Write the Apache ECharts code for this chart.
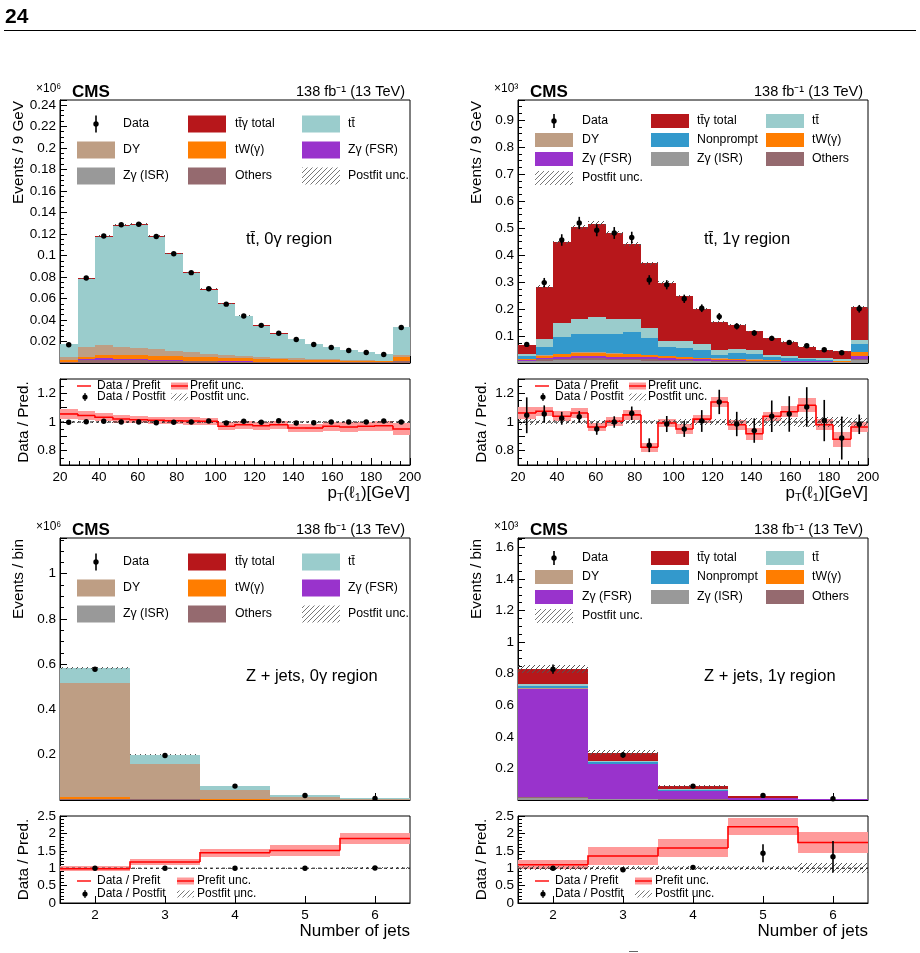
<!DOCTYPE html>
<html>
<head>
<meta charset="utf-8">
<script src="https://cdn.jsdelivr.net/npm/echarts@6/dist/echarts.min.js"></script>
<style>
html, body { margin: 0; padding: 0; background: #fff; }
#main { width: 920px; height: 953px; }
</style>
</head>
<body>
<div id="main"></div>
<script>
// bin edges of pT(l1) histograms, and jet-multiplicity categories
const ptEdges = [20, 29, 38, 47, 56, 65, 74, 83, 92, 101, 110, 119, 128, 137, 146, 155, 164, 173, 182, 191, 200];
const nJets = ['2', '3', '4', '5', '6'];

// ttbar, 0 photon region  (x10^6 events / 9 GeV)
const tt0Data = [0.017, 0.079, 0.118, 0.1285, 0.129, 0.1176, 0.1015, 0.084, 0.069, 0.0547, 0.0437, 0.035, 0.0277, 0.0218, 0.0172, 0.0144, 0.0116, 0.0098, 0.0079, 0.033];
const tt0Ttg = [0.0002, 0.0008, 0.0012, 0.0013, 0.0013, 0.0012, 0.001, 0.0009, 0.0007, 0.0006, 0.0005, 0.0004, 0.0003, 0.0003, 0.0002, 0.0002, 0.0002, 0.0001, 0.0001, 0.0004];
const tt0Tt = [0.0122, 0.0628, 0.0999, 0.1119, 0.1137, 0.1039, 0.0894, 0.0735, 0.0598, 0.0477, 0.0371, 0.0294, 0.0229, 0.018, 0.014, 0.0112, 0.009, 0.0073, 0.0058, 0.0256];
const tt0Dy = [0.0024, 0.0093, 0.0093, 0.0078, 0.0072, 0.006, 0.0053, 0.0043, 0.0033, 0.0026, 0.0021, 0.0016, 0.0011, 0.0012, 0.0009, 0.0009, 0.0008, 0.0007, 0.0005, 0.0022];
const tt0Tw = [0.0017, 0.0021, 0.0032, 0.0034, 0.0035, 0.0038, 0.0035, 0.0035, 0.0032, 0.003, 0.0027, 0.0025, 0.0023, 0.002, 0.0018, 0.0016, 0.0015, 0.0014, 0.0012, 0.0037];
const tt0Fsr = [0.0003, 0.001, 0.0012, 0.0011, 0.001, 0.0008, 0.0007, 0.0006, 0.0005, 0.0004, 0.0003, 0.0003, 0.0002, 0.0002, 0.0002, 0.0002, 0.0001, 0.0001, 0.0001, 0.0003];
const tt0Isr = [0.0002, 0.0004, 0.0004, 0.0004, 0.0003, 0.0003, 0.0003, 0.0002, 0.0002, 0.0002, 0.0002, 0.0001, 0.0001, 0.0001, 0.0001, 0.0001, 0.0001, 0.0001, 0.0001, 0.0002];
const tt0Oth = [0.0008, 0.0025, 0.0028, 0.0026, 0.0024, 0.002, 0.0018, 0.0015, 0.0013, 0.0011, 0.001, 0.0009, 0.0008, 0.0007, 0.0006, 0.0005, 0.0005, 0.0004, 0.0004, 0.0012];
const tt0Unc = [0.006, 0.006, 0.006, 0.006, 0.006, 0.006, 0.006, 0.006, 0.006, 0.006, 0.006, 0.006, 0.006, 0.006, 0.006, 0.006, 0.006, 0.006, 0.006, 0.006];
const tt0Pre = [1.056, 1.045, 1.033, 1.021, 1.016, 1.012, 1.009, 1.007, 1.005, 0.97, 0.981, 0.974, 0.981, 0.958, 0.958, 0.97, 0.965, 0.97, 0.974, 0.951];
const tt0PreUnc = [0.032, 0.03, 0.028, 0.027, 0.026, 0.025, 0.025, 0.025, 0.025, 0.028, 0.028, 0.028, 0.028, 0.03, 0.03, 0.03, 0.032, 0.032, 0.035, 0.04];
const tt0Post = [0.998, 1.002, 1.005, 1.0, 1.0, 0.995, 0.998, 1.0, 1.007, 0.993, 1.005, 0.998, 1.009, 0.993, 0.995, 1.0, 1.0, 1.0, 1.007, 1.0];
const tt0PostErr = [0.002, 0.002, 0.002, 0.002, 0.002, 0.002, 0.002, 0.002, 0.002, 0.002, 0.002, 0.002, 0.002, 0.002, 0.002, 0.002, 0.002, 0.002, 0.002, 0.002];
const tt0PostUnc = [0.004, 0.004, 0.004, 0.004, 0.004, 0.004, 0.004, 0.004, 0.004, 0.004, 0.004, 0.004, 0.004, 0.004, 0.004, 0.004, 0.004, 0.004, 0.004, 0.004];

// ttbar, 1 photon region  (x10^3 events / 9 GeV)
const tt1Data = [0.069, 0.298, 0.456, 0.519, 0.492, 0.482, 0.465, 0.308, 0.290, 0.238, 0.203, 0.172, 0.136, 0.111, 0.0913, 0.0764, 0.064, 0.049, 0.038, 0.201];
const tt1DataErr = [0.0083, 0.0173, 0.0214, 0.0228, 0.0222, 0.022, 0.0216, 0.0175, 0.017, 0.0154, 0.0142, 0.0131, 0.0117, 0.0105, 0.0096, 0.0087, 0.008, 0.007, 0.0062, 0.0142];
const tt1Ttg = [0.0345, 0.1948, 0.300, 0.342, 0.348, 0.319, 0.279, 0.242, 0.216, 0.167, 0.1325, 0.105, 0.088, 0.067, 0.0623, 0.0507, 0.0405, 0.031, 0.031, 0.1215];
const tt1Tt = [0.0065, 0.0288, 0.0495, 0.056, 0.062, 0.056, 0.049, 0.037, 0.022, 0.028, 0.021, 0.019, 0.014, 0.017, 0.008, 0.010, 0.0055, 0.006, 0.004, 0.016];
const tt1Np = [0.0105, 0.032, 0.0625, 0.068, 0.068, 0.071, 0.080, 0.061, 0.034, 0.031, 0.029, 0.012, 0.022, 0.020, 0.009, 0.008, 0.005, 0.003, 0.003, 0.027];
const tt1Dy = [0.001, 0.002, 0.002, 0.002, 0.002, 0.002, 0.002, 0.001, 0.001, 0.001, 0.001, 0.001, 0.001, 0.001, 0.001, 0, 0, 0, 0, 0.002];
const tt1Tw = [0.002, 0.006, 0.009, 0.011, 0.011, 0.010, 0.009, 0.008, 0.007, 0.006, 0.005, 0.004, 0.004, 0.003, 0.003, 0.002, 0.002, 0.002, 0.002, 0.014];
const tt1Fsr = [0.003, 0.007, 0.008, 0.009, 0.009, 0.008, 0.008, 0.007, 0.006, 0.005, 0.004, 0.004, 0.003, 0.003, 0.002, 0.002, 0.002, 0.002, 0.001, 0.010];
const tt1Isr = [0.006, 0.008, 0.010, 0.011, 0.011, 0.010, 0.010, 0.009, 0.008, 0.007, 0.006, 0.005, 0.005, 0.004, 0.004, 0.003, 0.003, 0.003, 0.002, 0.010];
const tt1Oth = [0.003, 0.005, 0.006, 0.006, 0.006, 0.006, 0.005, 0.005, 0.004, 0.004, 0.003, 0.003, 0.003, 0.002, 0.002, 0.002, 0.002, 0.001, 0.001, 0.006];
const tt1Unc = [0.02, 0.015, 0.015, 0.015, 0.015, 0.015, 0.015, 0.015, 0.017, 0.018, 0.02, 0.022, 0.023, 0.025, 0.027, 0.03, 0.032, 0.035, 0.038, 0.03];
const tt1Pre = [1.063, 1.075, 1.04, 1.063, 0.965, 1.005, 1.05, 0.824, 0.993, 0.951, 1.02, 1.14, 0.981, 0.918, 1.04, 1.072, 1.117, 0.981, 0.88, 0.965];
const tt1PreUnc = [0.04, 0.033, 0.035, 0.032, 0.03, 0.033, 0.035, 0.03, 0.026, 0.032, 0.03, 0.032, 0.035, 0.043, 0.032, 0.037, 0.047, 0.037, 0.053, 0.033];
const tt1Post = [1.047, 1.056, 1.026, 1.037, 0.951, 1.0, 1.061, 0.838, 0.986, 0.951, 1.007, 1.14, 0.986, 0.94, 1.04, 1.056, 1.105, 1.01, 0.888, 0.984];
const tt1PostErr = [0.125, 0.06, 0.045, 0.04, 0.04, 0.04, 0.047, 0.048, 0.056, 0.055, 0.076, 0.085, 0.085, 0.085, 0.11, 0.124, 0.138, 0.144, 0.15, 0.068];
const tt1PostUnc = [0.02, 0.015, 0.015, 0.015, 0.015, 0.015, 0.015, 0.015, 0.017, 0.018, 0.02, 0.022, 0.023, 0.025, 0.027, 0.03, 0.032, 0.035, 0.038, 0.03];

// Z+jets, 0 photon region  (x10^6 events / bin)
const zj0Data = [0.578, 0.197, 0.0615, 0.020, 0.007];
const zj0Ttg = [0.0005, 0.0003, 0.0002, 0.0001, 0.0001];
const zj0Tt = [0.0655, 0.0397, 0.0175, 0.0086, 0.0029];
const zj0Dy = [0.505, 0.1554, 0.043, 0.0121, 0.0037];
const zj0Tw = [0.006, 0.002, 0.0011, 0.0004, 0.0001];
const zj0Fsr = [0.001, 0.0003, 0.0001, 0, 0];
const zj0Isr = [0.001, 0.0003, 0.0001, 0, 0];
const zj0Oth = [0.004, 0.002, 0.001, 0.0005, 0.0002];
const zj0Unc = [0.008, 0.01, 0.015, 0.02, 0.03];
const zj0Pre = [0.985, 1.18, 1.445, 1.51, 1.855];
const zj0PreUnc = [0.075, 0.08, 0.11, 0.17, 0.16];
const zj0Post = [1.0, 1.0, 1.0, 1.0, 1.005];
const zj0PostErr = [0.003, 0.005, 0.01, 0.02, 0.03];
const zj0PostUnc = [0.01, 0.01, 0.015, 0.02, 0.03];

// Z+jets, 1 photon region  (x10^3 events / bin)
const zj1Data = [0.829, 0.285, 0.088, 0.029, 0.008];
const zj1DataErr = [0.029, 0.017, 0.0094, 0.0054, 0.0028];
const zj1Ttg = [0.091, 0.051, 0.019, 0.011, 0.0025];
const zj1Tt = [0.015, 0.010, 0.005, 0.002, 0.001];
const zj1Np = [0.016, 0.008, 0.006, 0.002, 0.001];
const zj1Dy = [0.003, 0.002, 0.001, 0, 0];
const zj1Tw = [0.002, 0.001, 0.001, 0, 0];
const zj1Fsr = [0.68, 0.218, 0.052, 0.008, 0.003];
const zj1Isr = [0.012, 0.005, 0.002, 0.001, 0];
const zj1Oth = [0.010, 0.004, 0.002, 0.001, 0.0005];
const zj1Unc = [0.03, 0.05, 0.06, 0.08, 0.1];
const zj1Pre = [1.10, 1.35, 1.58, 2.19, 1.74];
const zj1PreUnc = [0.13, 0.25, 0.26, 0.25, 0.3];
const zj1Post = [1.0, 0.957, 1.025, 1.43, 1.33];
const zj1PostErr = [0.035, 0.03, 0.045, 0.26, 0.45];
const zj1PostUnc = [0.05, 0.05, 0.05, 0.05, 0.15];

const FONT = '"Liberation Sans", Arial, Helvetica, sans-serif';
const COL = {
  ttg: '#b7171b', tt: '#9acccc', dy: '#be9e84', np: '#3399cc',
  tw: '#ff7d00', fsr: '#9933cc', isr: '#999999', oth: '#956a6f'
};
const ORDER = ['isr', 'oth', 'fsr', 'tw', 'dy', 'np', 'tt', 'ttg'];

// diagonal hatch pattern (ROOT style 3354-ish)
function makeHatch(color, step) {
  const c = document.createElement('canvas');
  c.width = step; c.height = step;
  const g = c.getContext('2d');
  g.strokeStyle = color; g.lineWidth = 1;
  g.beginPath();
  g.moveTo(0, step); g.lineTo(step, 0);
  g.moveTo(-1, 1); g.lineTo(1, -1);
  g.moveTo(step - 1, step + 1); g.lineTo(step + 1, step - 1);
  g.stroke();
  return { image: c, repeat: 'repeat' };
}
const hatchFill = makeHatch('#555', 5);
const hatchLegend = makeHatch('#777', 5);

const panels = [
  { left: 60, top: 100, height: 263, rTop: 379, rHeight: 86, cat: false,
    yMax: 0.2445, yInt: 0.02, rMin: 0.7, rMax: 1.3, rInt: 0.1,
    stack: { isr: tt0Isr, oth: tt0Oth, fsr: tt0Fsr, tw: tt0Tw, dy: tt0Dy, tt: tt0Tt, ttg: tt0Ttg },
    data: tt0Data, dataErr: null, unc: tt0Unc,
    pre: tt0Pre, preUnc: tt0PreUnc, post: tt0Post, postErr: tt0PostErr, postUnc: tt0PostUnc },
  { left: 518, top: 100, height: 263, rTop: 379, rHeight: 86, cat: false,
    yMax: 0.975, yInt: 0.1, rMin: 0.7, rMax: 1.3, rInt: 0.1,
    stack: { isr: tt1Isr, oth: tt1Oth, fsr: tt1Fsr, tw: tt1Tw, dy: tt1Dy, np: tt1Np, tt: tt1Tt, ttg: tt1Ttg },
    data: tt1Data, dataErr: tt1DataErr, unc: tt1Unc,
    pre: tt1Pre, preUnc: tt1PreUnc, post: tt1Post, postErr: tt1PostErr, postUnc: tt1PostUnc },
  { left: 60, top: 538, height: 262, rTop: 816, rHeight: 87, cat: true,
    yMax: 1.158, yInt: 0.2, rMin: 0, rMax: 2.5, rInt: 0.5,
    stack: { isr: zj0Isr, oth: zj0Oth, fsr: zj0Fsr, tw: zj0Tw, dy: zj0Dy, tt: zj0Tt, ttg: zj0Ttg },
    data: zj0Data, dataErr: null, unc: zj0Unc,
    pre: zj0Pre, preUnc: zj0PreUnc, post: zj0Post, postErr: zj0PostErr, postUnc: zj0PostUnc },
  { left: 518, top: 538, height: 262, rTop: 816, rHeight: 87, cat: true,
    yMax: 1.66, yInt: 0.2, rMin: 0, rMax: 2.5, rInt: 0.5,
    stack: { isr: zj1Isr, oth: zj1Oth, fsr: zj1Fsr, tw: zj1Tw, dy: zj1Dy, np: zj1Np, tt: zj1Tt, ttg: zj1Ttg },
    data: zj1Data, dataErr: zj1DataErr, unc: zj1Unc,
    pre: zj1Pre, preUnc: zj1PreUnc, post: zj1Post, postErr: zj1PostErr, postUnc: zj1PostUnc }
];

function xVal(p, i) { return p.cat ? i : (ptEdges[i] + ptEdges[i + 1]) / 2; }

function binX(p, api, i) {
  if (p.cat) {
    const c = api.coord([i, 0])[0];
    const w = api.size([1, 0])[0];
    return [Math.round(c - w / 2), Math.round(c + w / 2)];
  }
  return [Math.round(api.coord([ptEdges[i], 0])[0]), Math.round(api.coord([ptEdges[i + 1], 0])[0])];
}

// one filled box per bin, between lo and hi
function boxSeries(p, ax, rows, fill, z) {
  return {
    type: 'custom', xAxisIndex: ax, yAxisIndex: ax, silent: true, z: z,
    data: rows, encode: { x: 0, y: [1, 2] },
    renderItem: (params, api) => {
      const i = api.value(3), lo = api.value(1), hi = api.value(2);
      const [xl, xr] = binX(p, api, i);
      const y0 = Math.round(api.coord([api.value(0), lo])[1]);
      const y1 = Math.round(api.coord([api.value(0), hi])[1]);
      if (y0 - y1 <= 0) return { type: 'group', children: [] };
      return { type: 'rect', shape: { x: xl, y: y1, width: xr - xl, height: y0 - y1 }, style: { fill: fill } };
    }
  };
}

// markers with vertical error bars
function pointSeries(p, ax, vals, errs) {
  return {
    type: 'custom', xAxisIndex: ax, yAxisIndex: ax, silent: true, z: 10,
    data: vals.map((v, i) => [xVal(p, i), v, errs ? errs[i] : 0]),
    encode: { x: 0, y: 1 },
    renderItem: (params, api) => {
      const x = api.value(0), y = api.value(1), e = api.value(2);
      const c = api.coord([x, y]);
      const lo = api.coord([x, y - e]), hi = api.coord([x, y + e]);
      return { type: 'group', children: [
        { type: 'line', shape: { x1: c[0], y1: lo[1], x2: c[0], y2: hi[1] }, style: { stroke: '#000', lineWidth: 1.6 } },
        { type: 'circle', shape: { cx: c[0], cy: c[1], r: 2.7 }, style: { fill: '#000' } }
      ] };
    }
  };
}

function mainFmt(step) {
  return v => {
    const k = v / step;
    if (v < 1e-9 || Math.abs(k - Math.round(k)) > 1e-6) return '';
    return String(parseFloat(v.toFixed(4)));
  };
}
const ratioFmtTop = v => { const r = Math.round(v * 10); return r === 8 ? '0.8' : r === 10 ? '1' : r === 12 ? '1.2' : ''; };
const ratioFmtBot = v => String(parseFloat(v.toFixed(2)));

const tickStyle = { color: '#000', width: 1 };
function xAxisCfg(p, gi, showLabel) {
  const base = {
    gridIndex: gi,
    axisLine: { show: true, lineStyle: tickStyle },
    splitLine: { show: false },
    axisLabel: { show: showLabel, color: '#000', fontFamily: FONT, fontSize: 13.5, margin: 5 }
  };
  if (p.cat) {
    return Object.assign(base, {
      type: 'category', data: nJets, boundaryGap: true,
      axisTick: { show: true, inside: true, alignWithLabel: true, length: 7, lineStyle: tickStyle }
    });
  }
  return Object.assign(base, {
    type: 'value', min: 20, max: 200, interval: 20,
    axisTick: { show: true, inside: true, length: 7, lineStyle: tickStyle },
    minorTick: { show: true, splitNumber: 4, length: 4, lineStyle: tickStyle }
  });
}
function yAxisCfg(gi, min, max, interval, fmt, split) {
  return {
    type: 'value', gridIndex: gi, min: min, max: max, interval: interval,
    axisLine: { show: true, lineStyle: tickStyle },
    axisTick: { show: true, inside: true, length: 7, lineStyle: tickStyle },
    minorTick: { show: true, splitNumber: split, length: 4, lineStyle: tickStyle },
    splitLine: { show: false },
    axisLabel: { color: '#000', fontFamily: FONT, fontSize: 13.5, margin: 4, formatter: fmt }
  };
}

const grids = [], xAxes = [], yAxes = [], series = [];
panels.forEach((p, pi) => {
  const gm = 2 * pi, gr = 2 * pi + 1;
  const gridBase = { left: p.left, width: 350, show: true, borderColor: '#000', borderWidth: 1, backgroundColor: 'transparent', containLabel: false };
  grids.push(Object.assign({}, gridBase, { top: p.top, height: p.height }));
  grids.push(Object.assign({}, gridBase, { top: p.rTop, height: p.rHeight }));
  xAxes.push(xAxisCfg(p, gm, false));
  xAxes.push(xAxisCfg(p, gr, true));
  yAxes.push(yAxisCfg(gm, 0, p.yMax, p.yInt, mainFmt(p.yInt), 4));
  yAxes.push(yAxisCfg(gr, p.rMin, p.rMax, p.rInt, p.cat ? ratioFmtBot : ratioFmtTop, p.cat ? 5 : 2));

  // stacked backgrounds
  const n = p.data.length;
  const cum = new Array(n).fill(0);
  ORDER.forEach(key => {
    const vals = p.stack[key];
    if (!vals) return;
    const rows = vals.map((v, i) => [xVal(p, i), cum[i], cum[i] + v, i]);
    vals.forEach((v, i) => { cum[i] += v; });
    series.push(boxSeries(p, gm, rows, COL[key], 2));
  });
  // postfit uncertainty on the total
  series.push(boxSeries(p, gm, cum.map((t, i) => [xVal(p, i), t * (1 - p.unc[i]), t * (1 + p.unc[i]), i]), hatchFill, 4));
  series.push(pointSeries(p, gm, p.data, p.dataErr));

  // ratio panel
  series.push(boxSeries(p, gr, p.pre.map((r, i) => [xVal(p, i), r - p.preUnc[i], r + p.preUnc[i], i]), '#ff9a9a', 2));
  series.push(boxSeries(p, gr, p.postUnc.map((u, i) => [xVal(p, i), 1 - u, 1 + u, i]), hatchFill, 3));
  series.push({
    type: 'custom', xAxisIndex: gr, yAxisIndex: gr, silent: true, z: 4,
    data: [[xVal(p, 0), 1]], encode: { x: 0, y: 1 },
    renderItem: (params, api) => {
      const cs = params.coordSys;
      const y = api.coord([api.value(0), api.value(1)])[1];
      return { type: 'line', shape: { x1: cs.x, y1: y, x2: cs.x + cs.width, y2: y }, style: { stroke: '#000', lineWidth: 1, lineDash: [3, 3] } };
    }
  });
  series.push({
    type: 'custom', xAxisIndex: gr, yAxisIndex: gr, silent: true, z: 6,
    data: p.pre.map((r, i) => [xVal(p, i), r, i > 0 ? p.pre[i - 1] : r, i]),
    encode: { x: 0, y: 1 },
    renderItem: (params, api) => {
      const i = api.value(3);
      const [xl, xr] = binX(p, api, i);
      const y = api.coord([api.value(0), api.value(1)])[1];
      const yp = api.coord([api.value(0), api.value(2)])[1];
      const pts = i > 0 ? [[xl, yp], [xl, y], [xr, y]] : [[xl, y], [xr, y]];
      return { type: 'polyline', shape: { points: pts }, style: { stroke: '#ff0000', lineWidth: 1.6, fill: null } };
    }
  });
  series.push(pointSeries(p, gr, p.post, p.postErr));
});

// ---------- text and legends ----------
function txt(x, y, s, size, extra) {
  const st = Object.assign({ text: s, fontSize: size, fontFamily: FONT, fill: '#000',
    align: 'left', textAlign: 'left', verticalAlign: 'middle', textVerticalAlign: 'middle' }, extra || {});
  return { type: 'text', x: x, y: y, z: 100, silent: true, style: st };
}
function vtxt(x, y, s, size, align) {
  const el = txt(x, y, s, size, { align: align, textAlign: align });
  el.rotation = Math.PI / 2;
  return el;
}

const legA = [
  { k: 'data', t: 'Data', c: 0, r: 0 }, { k: 'ttg', t: 'tt\u0304\u03b3 total', c: 1, r: 0 }, { k: 'tt', t: 'tt\u0304', c: 2, r: 0 },
  { k: 'dy', t: 'DY', c: 0, r: 1 }, { k: 'tw', t: 'tW(\u03b3)', c: 1, r: 1 }, { k: 'fsr', t: 'Z\u03b3 (FSR)', c: 2, r: 1 },
  { k: 'isr', t: 'Z\u03b3 (ISR)', c: 0, r: 2 }, { k: 'oth', t: 'Others', c: 1, r: 2 }, { k: 'hatch', t: 'Postfit unc.', c: 2, r: 2 }
];
const legB = [
  { k: 'data', t: 'Data', c: 0, r: 0 }, { k: 'ttg', t: 'tt\u0304\u03b3 total', c: 1, r: 0 }, { k: 'tt', t: 'tt\u0304', c: 2, r: 0 },
  { k: 'dy', t: 'DY', c: 0, r: 1 }, { k: 'np', t: 'Nonprompt', c: 1, r: 1 }, { k: 'tw', t: 'tW(\u03b3)', c: 2, r: 1 },
  { k: 'fsr', t: 'Z\u03b3 (FSR)', c: 0, r: 2 }, { k: 'isr', t: 'Z\u03b3 (ISR)', c: 1, r: 2 }, { k: 'oth', t: 'Others', c: 2, r: 2 },
  { k: 'hatch', t: 'Postfit unc.', c: 0, r: 3 }
];

function mainLegend(ox, rows, iconX, textX, iconH, entries) {
  const out = [];
  entries.forEach(e => {
    const y = rows[e.r], ix = ox + iconX[e.c], tx = ox + textX[e.c];
    if (e.k === 'data') {
      out.push({ type: 'line', z: 100, silent: true, shape: { x1: ix + 19, y1: y - iconH / 2, x2: ix + 19, y2: y + iconH / 2 }, style: { stroke: '#000', lineWidth: 1.6 } });
      out.push({ type: 'circle', z: 100, silent: true, shape: { cx: ix + 19, cy: y, r: 2.7 }, style: { fill: '#000' } });
    } else {
      out.push({ type: 'rect', z: 100, silent: true, shape: { x: ix, y: y - iconH / 2, width: 38, height: iconH },
        style: { fill: e.k === 'hatch' ? hatchLegend : COL[e.k] } });
    }
    out.push(txt(tx, y, e.t, 12.3));
  });
  return out;
}

function ratioLegend(ox, y1, y2, o) {
  return [
    { type: 'line', z: 100, silent: true, shape: { x1: ox + 17, y1: y1, x2: ox + 31, y2: y1 }, style: { stroke: '#ff0000', lineWidth: 1.4 } },
    txt(ox + 37, y1, 'Data / Prefit', 12),
    { type: 'rect', z: 100, silent: true, shape: { x: ox + o.bx, y: y1 - 3.5, width: 17, height: 7 }, style: { fill: '#ff9a9a' } },
    { type: 'line', z: 100, silent: true, shape: { x1: ox + o.bx, y1: y1, x2: ox + o.bx + 17, y2: y1 }, style: { stroke: '#ff0000', lineWidth: 1.4 } },
    txt(ox + o.tx, y1, 'Prefit unc.', 12),
    { type: 'line', z: 100, silent: true, shape: { x1: ox + 25, y1: y2 - 4, x2: ox + 25, y2: y2 + 4 }, style: { stroke: '#000', lineWidth: 1.2 } },
    { type: 'circle', z: 100, silent: true, shape: { cx: ox + 25, cy: y2, r: 2.6 }, style: { fill: '#000' } },
    txt(ox + 37, y2, 'Data / Postfit', 12),
    { type: 'rect', z: 100, silent: true, shape: { x: ox + o.bx, y: y2 - 3.5, width: 17, height: 7 }, style: { fill: hatchLegend } },
    txt(ox + o.tx, y2, 'Postfit unc.', 12)
  ];
}

const graphics = [
  txt(5, 17, '24', 21, { fontWeight: 'bold', fontFamily: '"Liberation Sans Narrow", "Liberation Sans", Arial, sans-serif' }),
  { type: 'line', z: 100, silent: true, shape: { x1: 4, y1: 30.5, x2: 916, y2: 30.5 }, style: { stroke: '#000', lineWidth: 1 } },
  { type: 'line', z: 100, silent: true, shape: { x1: 629, y1: 951.5, x2: 638, y2: 951.5 }, style: { stroke: '#666', lineWidth: 1 } }
];

const titles = [
  { exp: '\u00d710\u2076', yTitle: 'Events / 9 GeV', region: 'tt\u0304, 0\u03b3 region' },
  { exp: '\u00d710\u00b3', yTitle: 'Events / 9 GeV', region: 'tt\u0304, 1\u03b3 region' },
  { exp: '\u00d710\u2076', yTitle: 'Events / bin', region: 'Z + jets, 0\u03b3 region' },
  { exp: '\u00d710\u00b3', yTitle: 'Events / bin', region: 'Z + jets, 1\u03b3 region' }
];

panels.forEach((p, pi) => {
  const ox = p.left, t = titles[pi];
  graphics.push(txt(ox - 24, p.top - 11, t.exp, 12));
  graphics.push(txt(ox + 12, p.top - 7.5, 'CMS', 17, { fontWeight: 'bold' }));
  graphics.push(txt(ox + 345, p.top - 8.5, '138 fb\u207b\u00b9 (13 TeV)', 14.5, { align: 'right', textAlign: 'right' }));
  graphics.push(txt(ox + 186, p.cat ? 676 : 239, t.region, 16.5));
  graphics.push(vtxt(ox - 41, p.top + 1, t.yTitle, 15.3, 'right'));
  graphics.push(vtxt(ox - 36, p.rTop + p.rHeight / 2, 'Data / Pred.', 15.3, 'center'));
  if (p.cat) {
    graphics.push(txt(ox + 350, 931, 'Number of jets', 17, { align: 'right', textAlign: 'right' }));
  } else {
    graphics.push(txt(ox + 350, 493, '{a|p}{b|T}{a|(\u2113}{b|1}{a|)[GeV]}', 17, {
      align: 'right', textAlign: 'right',
      rich: {
        a: { fontSize: 17, fontFamily: FONT, lineHeight: 20 },
        b: { fontSize: 11, fontFamily: FONT, lineHeight: 10, verticalAlign: 'bottom' }
      }
    }));
  }
  if (pi === 0) graphics.push(...mainLegend(ox, [124, 150, 176], [17, 128, 242], [63, 175, 288], 17, legA));
  if (pi === 2) graphics.push(...mainLegend(ox, [562, 588, 614], [17, 128, 242], [63, 175, 288], 17, legA));
  if (pi === 1) graphics.push(...mainLegend(ox, [121, 140, 159, 178], [17, 133, 248], [64, 179, 294], 14, legB));
  if (pi === 3) graphics.push(...mainLegend(ox, [558, 577, 597, 616], [17, 133, 248], [64, 179, 294], 14, legB));
  if (p.cat) graphics.push(...ratioLegend(ox, 881, 894, { bx: 117, tx: 137 }));
  else graphics.push(...ratioLegend(ox, 386, 397, { bx: 111, tx: 130 }));
});

const chart = echarts.init(document.getElementById('main'), null, { renderer: 'canvas', width: 920, height: 953 });
chart.setOption({
  animation: false,
  backgroundColor: '#fff',
  textStyle: { fontFamily: FONT },
  grid: grids,
  xAxis: xAxes,
  yAxis: yAxes,
  series: series,
  graphic: { elements: graphics }
});
</script>
</body>
</html>
